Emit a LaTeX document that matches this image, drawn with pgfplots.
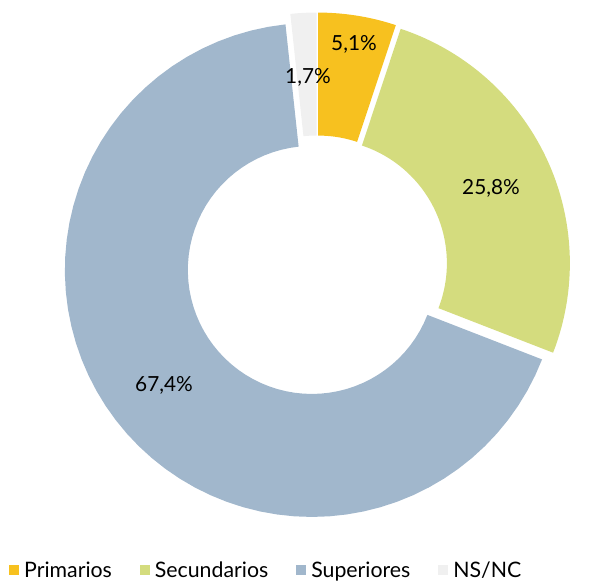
\documentclass[border=0pt]{standalone}
\usepackage{pgfplots}
\pgfplotsset{compat=1.18}
\usepackage{fontspec}
\setmainfont{Lato}

\definecolor{cPrim}{HTML}{F7C11F}
\definecolor{cSec}{HTML}{D4DC7E}
\definecolor{cSup}{HTML}{A1B7CC}
\definecolor{cNS}{HTML}{F0F0F0}

% donut slice: #1 = cumulative share before it (%), #2 = share (%), #3 = colour
% outer arc for t=0..60, inner arc back for t=61..121, slice moved out a little
\newcommand{\slice}[3]{%
  \pgfmathsetmacro\aA{90-3.6*#1}%
  \pgfmathsetmacro\aB{90-3.6*(#1+#2)}%
  \pgfmathsetmacro\aM{(\aA+\aB)/2}%
  \pgfmathsetmacro\cx{317+6.5*cos(\aM)}%
  \pgfmathsetmacro\cy{316+6.5*sin(\aM)}%
  \addplot[fill=#3, draw=none, samples at={0,1,...,121}, variable=\t]
    ({\cx + (\t<=60 ? 247 : 124)*cos(\t<=60 ? \aA+(\aB-\aA)*\t/60 : \aB-(\aB-\aA)*(\t-61)/60)},
     {\cy + (\t<=60 ? 247 : 124)*sin(\t<=60 ? \aA+(\aB-\aA)*\t/60 : \aB-(\aB-\aA)*(\t-61)/60)}) -- cycle;
}

\begin{document}
\begin{tikzpicture}
\begin{axis}[
    width=611pt, height=582pt, scale only axis,
    xmin=0, xmax=611, ymin=0, ymax=582,
    hide axis, clip=false,
    legend columns=4,
    legend image code/.code={\fill[#1] (0pt,-5pt) rectangle (10pt,5pt);},
    legend style={at={(axis cs:6,12)}, anchor=west, draw=none, fill=none,
        font=\fontsize{21.3}{24}\selectfont,
        /tikz/every odd column/.append style={column sep=3pt},
        /tikz/every even column/.append style={column sep=26pt}},
]
\path (rel axis cs:0,0) rectangle (rel axis cs:1,1);
% shares: 5.1, 25.8, 67.4, 1.7
\slice{0}{5.1}{cPrim}
\addlegendentry{Primarios}
\slice{5.1}{25.8}{cSec}
\addlegendentry{Secundarios}
\slice{30.9}{67.4}{cSup}
\addlegendentry{Superiores}
\slice{98.3}{1.7}{cNS}
\addlegendentry{NS/NC}

\begin{scope}[font=\fontsize{20.8}{24}\selectfont]
\node at (axis cs:354,538) {5,1\%};
\node at (axis cs:308,505) {1,7\%};
\node at (axis cs:491,394) {25,8\%};
\node at (axis cs:164,197) {67,4\%};
\end{scope}
\end{axis}
\end{tikzpicture}
\end{document}
